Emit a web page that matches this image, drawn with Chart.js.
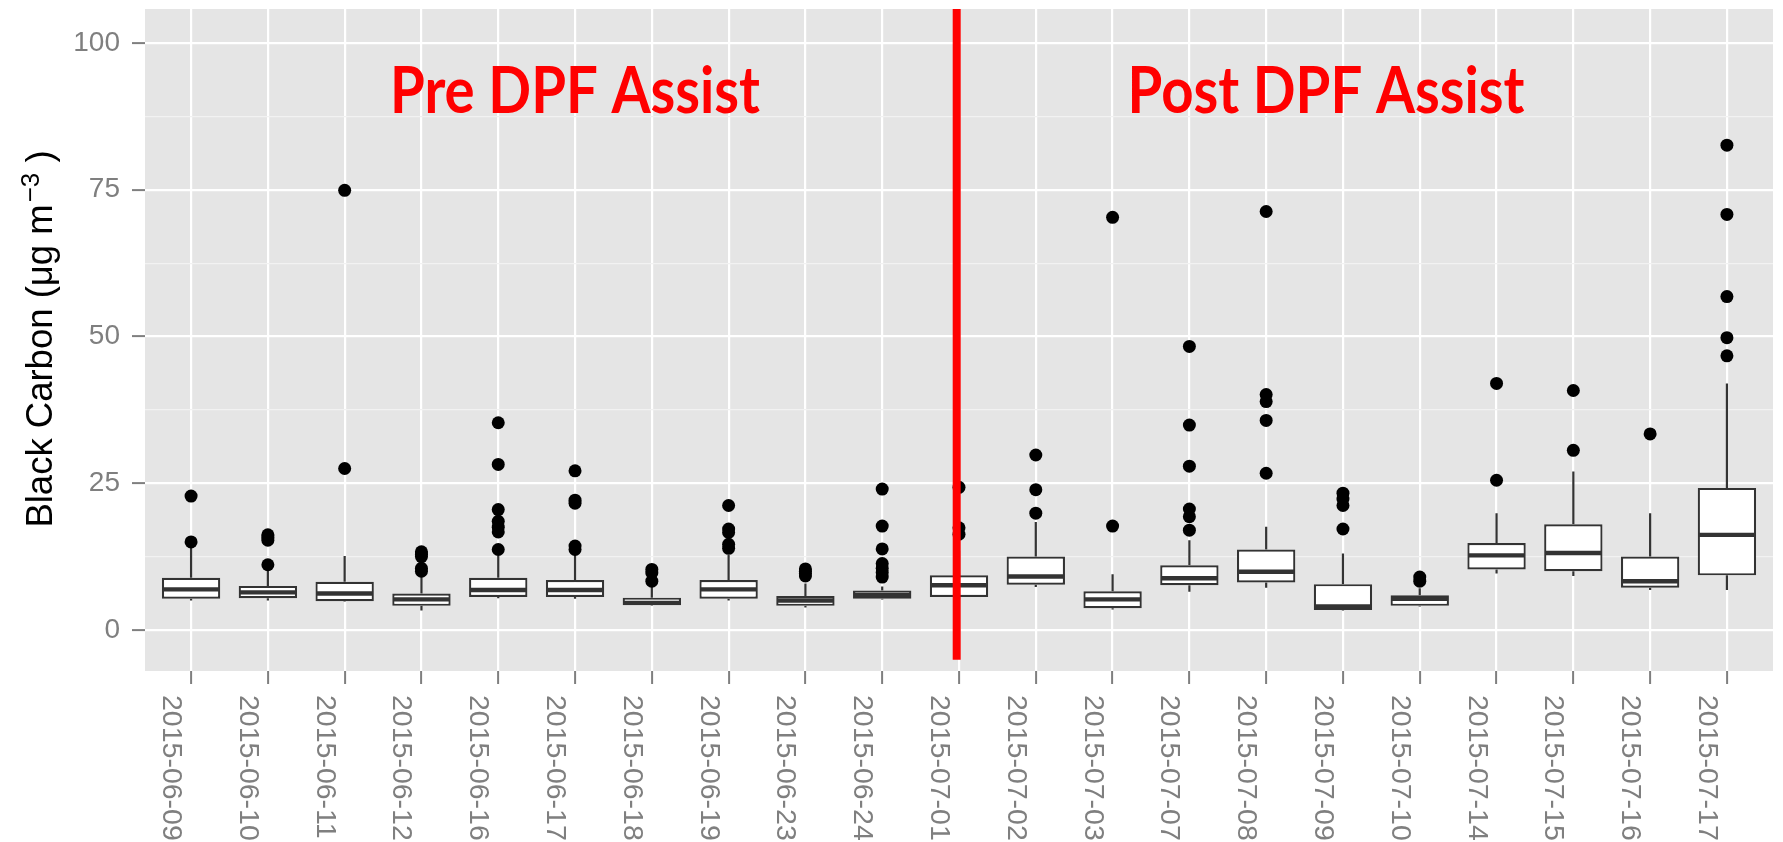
<!DOCTYPE html>
<html>
<head>
<meta charset="utf-8">
<title>Black Carbon - Pre / Post DPF Assist</title>
<script src="https://cdn.jsdelivr.net/npm/chart.js@4.4.0/dist/chart.umd.min.js"></script>
<style>
  html, body { margin: 0; padding: 0; background: #fff; }
  #wrap { width: 1783px; height: 842px; position: relative; }
</style>
</head>
<body>
<div id="wrap"><canvas id="chart"></canvas></div>
<script>
// ------------------------------------------------------------
// Data
// ------------------------------------------------------------
const categories = [
  '2015-06-09','2015-06-10','2015-06-11','2015-06-12','2015-06-16','2015-06-17',
  '2015-06-18','2015-06-19','2015-06-23','2015-06-24','2015-07-01','2015-07-02',
  '2015-07-03','2015-07-07','2015-07-08','2015-07-09','2015-07-10','2015-07-14',
  '2015-07-15','2015-07-16','2015-07-17'
];

const whiskerLow  = [5.0, 5.0, 4.8, 3.3, 5.4, 5.3, 4.1, 5.0, 3.8, 5.2, 5.2, 7.3, 3.5, 6.5, 7.2, 3.3, 4.0, 9.6, 9.2, 6.8, 6.8];
const q1          = [5.3, 5.4, 4.9, 4.1, 5.6, 5.6, 4.2, 5.3, 4.1, 5.3, 5.6, 7.7, 3.7, 7.6, 8.1, 3.4, 4.1, 10.3, 10.0, 7.2, 9.3];
const medians     = [6.9, 6.4, 6.2, 5.2, 6.8, 6.8, 4.6, 6.9, 5.0, 5.9, 7.6, 9.1, 5.2, 8.8, 9.9, 4.0, 5.3, 12.7, 13.1, 8.3, 16.2];
const q3          = [8.9, 7.5, 8.2, 6.2, 8.9, 8.5, 5.5, 8.5, 5.8, 6.7, 9.3, 12.5, 6.6, 11.0, 13.7, 7.8, 5.9, 14.8, 18.0, 12.5, 24.2];
const whiskerHigh = [14.1, 10.2, 12.6, 9.3, 12.7, 13.0, 7.3, 12.8, 7.9, 7.4, 13.5, 18.4, 9.5, 15.3, 17.6, 13.0, 7.1, 19.9, 27.0, 19.9, 42.0];

const outliers = [
  [22.8, 15.0],
  [16.2, 15.8, 15.3, 11.1],
  [74.9, 27.5],
  [13.3, 12.9, 12.5, 10.5, 10.0],
  [35.3, 28.2, 20.5, 18.5, 17.5, 16.7, 13.7],
  [27.1, 22.1, 21.6, 14.3, 13.7],
  [10.3, 9.7, 8.3],
  [21.2, 17.2, 16.6, 14.6, 13.9],
  [10.4, 10.0, 9.6, 9.2],
  [24.0, 17.7, 13.8, 11.3, 10.5, 9.8, 9.0],
  [24.3, 17.4, 16.3],
  [29.8, 23.9, 19.9],
  [70.3, 17.7],
  [48.3, 34.9, 27.9, 20.6, 19.3, 17.0],
  [71.3, 40.1, 38.9, 35.7, 26.7],
  [23.3, 22.3, 21.2, 17.2],
  [9.0, 8.3],
  [42.0, 25.5],
  [40.8, 30.6],
  [33.4],
  [82.6, 70.8, 56.8, 49.8, 46.7]
];

const yGridValues  = [0, 12.5, 25, 37.5, 50, 62.5, 75, 87.5, 100];
const yMajorValues = [0, 25, 50, 75, 100];

// annotations (in data units)
const phaseLabels   = ['Pre DPF Assist', 'Post DPF Assist'];
const phaseCenters  = [5.0, 14.78];
const phaseBaseline = 88;
const dividerAt     = 9.97;
const dividerBottom = -5.1;

// ------------------------------------------------------------
// Styles
// ------------------------------------------------------------
const PANEL_BG   = '#e5e5e5';
const BOX_LINE   = '#333333';
const AXIS_TEXT  = '#7f7f7f';
const FONT       = '"Liberation Sans", Arial, sans-serif';

const boxData = categories.map((c, i) => ({ x: i, y: [q1[i], q3[i]] }));
const outlierData = [];
outliers.forEach((arr, i) => arr.forEach(v => outlierData.push({ x: i, y: v })));

const ggPanel = {
  id: 'ggPanel',
  beforeDraw(chart) {
    const { ctx, chartArea: a } = chart;
    ctx.save();
    ctx.fillStyle = '#fff';
    ctx.fillRect(0, 0, chart.width, chart.height);
    ctx.fillStyle = PANEL_BG;
    ctx.fillRect(a.left, a.top, a.right - a.left, a.bottom - a.top);
    ctx.restore();
  },
};

const boxParts = {
  id: 'boxParts',
  beforeDatasetsDraw(chart) {
    // whiskers
    const { ctx } = chart;
    const xs = chart.scales.x, ys = chart.scales.y;
    ctx.save();
    ctx.strokeStyle = BOX_LINE;
    ctx.lineWidth = 2.2;
    categories.forEach((c, i) => {
      const x = xs.getPixelForValue(i);
      ctx.beginPath();
      ctx.moveTo(x, ys.getPixelForValue(q3[i]));
      ctx.lineTo(x, ys.getPixelForValue(whiskerHigh[i]));
      ctx.moveTo(x, ys.getPixelForValue(q1[i]));
      ctx.lineTo(x, ys.getPixelForValue(whiskerLow[i]));
      ctx.stroke();
    });
    ctx.restore();
  },
  afterDatasetDraw(chart, args) {
    if (args.index !== 1) return;
    // median lines on top of the boxes
    const { ctx } = chart;
    const ys = chart.scales.y;
    ctx.save();
    ctx.strokeStyle = BOX_LINE;
    ctx.lineWidth = 4.4;
    args.meta.data.forEach((bar, i) => {
      const y = ys.getPixelForValue(medians[i]);
      ctx.beginPath();
      ctx.moveTo(bar.x - bar.width / 2 + 1, y);
      ctx.lineTo(bar.x + bar.width / 2 - 1, y);
      ctx.stroke();
    });
    ctx.restore();
  },
};

const overlay = {
  id: 'overlay',
  afterDatasetsDraw(chart) {
    const { ctx, chartArea: a } = chart;
    const xs = chart.scales.x, ys = chart.scales.y;
    ctx.save();
    // red divider
    const dx = xs.getPixelForValue(dividerAt);
    ctx.strokeStyle = '#ff0000';
    ctx.lineWidth = 8;
    ctx.beginPath();
    ctx.moveTo(dx, a.top);
    ctx.lineTo(dx, ys.getPixelForValue(dividerBottom));
    ctx.stroke();
    // phase labels (narrowed to a Calibri-like width)
    ctx.fillStyle = '#ff0000';
    ctx.font = 'bold 65px Lato, "Open Sans", sans-serif';
    ctx.textAlign = 'center';
    ctx.textBaseline = 'alphabetic';
    const sx = 370 / ctx.measureText(phaseLabels[0]).width;
    phaseLabels.forEach((t, i) => {
      ctx.save();
      ctx.translate(xs.getPixelForValue(phaseCenters[i]), ys.getPixelForValue(phaseBaseline));
      ctx.scale(sx, 1);
      ctx.fillText(t, 0, 0);
      ctx.restore();
    });
    ctx.restore();
  },
  afterDraw(chart) {
    const { ctx, chartArea: a } = chart;
    const xs = chart.scales.x;
    ctx.save();
    // x labels, rotated clockwise, reading downwards
    ctx.fillStyle = AXIS_TEXT;
    ctx.font = '28.5px ' + FONT;
    ctx.textAlign = 'left';
    ctx.textBaseline = 'alphabetic';
    categories.forEach((c, i) => {
      ctx.save();
      ctx.translate(xs.getPixelForValue(i) - 28, a.bottom + 24);
      ctx.rotate(Math.PI / 2);
      ctx.fillText(c, 0, 0);
      ctx.restore();
    });
    // y title with superscript
    const main = 'Black Carbon (\u03bcg m', sup = '\u22123', tail = ' )';
    ctx.translate(52, (a.top + a.bottom) / 2);
    ctx.rotate(-Math.PI / 2);
    ctx.fillStyle = '#000';
    ctx.font = '36.5px ' + FONT;
    const wMain = ctx.measureText(main).width;
    const wTail = ctx.measureText(tail).width;
    ctx.font = '26px ' + FONT;
    const wSup = ctx.measureText(sup).width;
    let x = -(wMain + wSup + wTail) / 2;
    ctx.font = '36.5px ' + FONT;
    ctx.fillText(main, x, 0);
    x += wMain + 2;
    ctx.font = '26px ' + FONT;
    ctx.fillText(sup, x, -13);
    x += wSup;
    ctx.font = '36.5px ' + FONT;
    ctx.fillText(tail, x, 0);
    ctx.restore();
  },
};

new Chart(document.getElementById('chart'), {
  type: 'bar',
  data: {
    datasets: [
      {
        type: 'scatter',
        label: 'outliers',
        data: outlierData,
        order: 0,
        pointStyle: 'circle',
        pointRadius: 6.5,
        pointBackgroundColor: '#000',
        pointBorderWidth: 0,
      },
      {
        label: 'IQR',
        data: boxData,
        order: 1,
        backgroundColor: '#ffffff',
        borderColor: BOX_LINE,
        borderWidth: 2.2,
        borderSkipped: false,
        categoryPercentage: 1,
        barPercentage: 0.76,
      },
    ],
  },
  options: {
    responsive: true,
    maintainAspectRatio: false,
    animation: false,
    layout: { padding: { top: 9, right: 10, left: 0, bottom: 0 } },
    plugins: { legend: { display: false }, tooltip: { enabled: false } },
    scales: {
      x: {
        type: 'linear',
        offset: false,
        min: -0.6,
        max: categories.length - 1 + 0.6,
        afterBuildTicks: s => { s.ticks = categories.map((c, i) => ({ value: i })); },
        afterFit: s => { s.height = 171; s.paddingLeft = 0; s.paddingRight = 0; },
        ticks: { display: false },
        border: { display: false },
        grid: {
          offset: false,
          color: '#ffffff',
          lineWidth: 2.2,
          tickColor: AXIS_TEXT,
          tickLength: 13,
          tickWidth: 2,
        },
      },
      y: {
        min: -7,
        max: 105.8,
        afterBuildTicks: s => { s.ticks = yGridValues.map(v => ({ value: v })); },
        afterFit: s => { s.width = 145; s.paddingTop = 0; s.paddingBottom = 0; },
        border: { display: false },
        ticks: {
          color: AXIS_TEXT,
          font: { family: FONT, size: 28 },
          padding: 12,
          callback: v => yMajorValues.includes(v) ? String(v) : '',
        },
        grid: {
          color: c => yMajorValues.includes(c.tick.value) ? '#ffffff' : '#f2f2f2',
          lineWidth: c => yMajorValues.includes(c.tick.value) ? 2.2 : 1.2,
          tickColor: c => yMajorValues.includes(c.tick.value) ? AXIS_TEXT : 'rgba(0,0,0,0)',
          tickLength: 13,
          tickWidth: 2,
        },
      },
    },
  },
  plugins: [ggPanel, boxParts, overlay],
});
</script>
</body>
</html>
